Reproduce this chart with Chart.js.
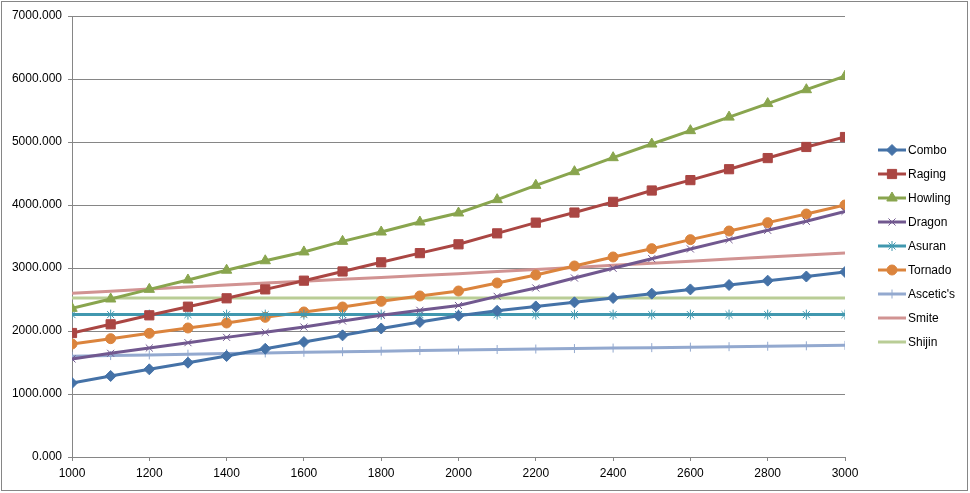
<!DOCTYPE html>
<html lang="en">
<head>
    <meta charset="UTF-8">
    <title>Damage by level</title>
    <script src="https://cdn.jsdelivr.net/npm/chart.js"></script>
    <style>
        body {
            margin: 0;
            padding: 0;
            background-color: #ffffff;
        }

        #chart-container {
            position: relative;
            width: 970px;
            height: 493px;
        }
    </style>
</head>
<body>

    <div id="chart-container">
        <canvas id="damage-chart"></canvas>
    </div>

    <script>
        const levels = [1000, 1100, 1200, 1300, 1400, 1500, 1600, 1700, 1800, 1900, 2000,
                        2100, 2200, 2300, 2400, 2500, 2600, 2700, 2800, 2900, 3000];

        const combo    = [1175, 1286, 1392, 1497, 1603, 1718, 1825, 1931, 2040, 2143, 2243,
                          2320, 2390, 2455, 2524, 2593, 2660, 2730, 2799, 2865, 2937];
        const raging   = [1968, 2106, 2249, 2386, 2519, 2661, 2799, 2945, 3090, 3236, 3376,
                          3550, 3720, 3880, 4050, 4230, 4395, 4568, 4745, 4921, 5079];
        const howling  = [2360, 2508, 2661, 2810, 2965, 3115, 3255, 3423, 3571, 3730, 3873,
                          4085, 4312, 4529, 4751, 4968, 5180, 5395, 5610, 5830, 6045];
        const dragon   = [1556, 1646, 1730, 1815, 1899, 1979, 2063, 2160, 2250, 2328, 2405,
                          2550, 2683, 2841, 2995, 3148, 3302, 3450, 3598, 3741, 3899];
        const asuran   = [2260, 2260, 2260, 2260, 2260, 2260, 2260, 2260, 2260, 2260, 2260,
                          2260, 2260, 2260, 2260, 2260, 2260, 2260, 2260, 2260, 2260];
        const tornado  = [1794, 1878, 1963, 2048, 2127, 2217, 2302, 2381, 2471, 2556, 2635,
                          2762, 2889, 3032, 3175, 3307, 3450, 3587, 3720, 3857, 4000];
        const ascetics = [1598, 1610, 1621, 1632, 1642, 1652, 1662, 1671, 1680, 1689, 1698,
                          1706, 1714, 1721, 1729, 1736, 1744, 1751, 1758, 1765, 1772];
        const smite    = [2598, 2632, 2666, 2698, 2730, 2760, 2790, 2820, 2850, 2880, 2910,
                          2943, 2976, 3009, 3042, 3075, 3108, 3141, 3174, 3207, 3240];
        const shijin   = [2525, 2525, 2525, 2525, 2525, 2525, 2525, 2525, 2525, 2525, 2525,
                          2525, 2525, 2525, 2525, 2525, 2525, 2525, 2525, 2525, 2525];

        const seriesNames = ['Combo', 'Raging', 'Howling', 'Dragon', 'Asuran', 'Tornado', "Ascetic's", 'Smite', 'Shijin'];
        const seriesData = [combo, raging, howling, dragon, asuran, tornado, ascetics, smite, shijin];
        const seriesColors = ['#4572A7', '#AA4643', '#89A54E', '#71588F', '#4198AF', '#DB843D', '#93A9CF', '#D19392', '#B9CD96'];
        const markers = ['rectRot', 'rect', 'triangle', 'crossRot', 'star', 'circle', 'cross', false, false];
        const markerSizes = [5.5, 6.5, 6, 5, 5, 5, 4.5, 0, 0];

        const fontFamily = '"Liberation Sans", Arial, sans-serif';

        const datasets = seriesNames.map((name, i) => ({
            label: name,
            data: levels.map((lv, j) => ({ x: lv, y: seriesData[i][j] })),
            borderColor: seriesColors[i],
            backgroundColor: seriesColors[i],
            borderWidth: 3,
            pointStyle: markers[i],
            pointRadius: markerSizes[i],
            pointHoverRadius: markerSizes[i],
            pointBorderWidth: 1,
            pointBorderColor: seriesColors[i],
            pointBackgroundColor: seriesColors[i],
            tension: 0
        }));

        // excel-like legend: line with marker, text to the right
        const sideLegend = {
            id: 'sideLegend',
            afterDraw(chart) {
                const ctx = chart.ctx;
                const area = chart.chartArea;
                const x0 = area.right + 33;
                const yStart = 150;
                ctx.save();
                ctx.font = '12px ' + fontFamily;
                ctx.textBaseline = 'middle';
                chart.data.datasets.forEach((ds, i) => {
                    const y = yStart + i * 24;
                    ctx.strokeStyle = ds.borderColor;
                    ctx.lineWidth = 3;
                    ctx.beginPath();
                    ctx.moveTo(x0, y);
                    ctx.lineTo(x0 + 28, y);
                    ctx.stroke();
                    if (ds.pointStyle) {
                        ctx.fillStyle = ds.backgroundColor;
                        ctx.strokeStyle = ds.borderColor;
                        ctx.lineWidth = 1;
                        Chart.helpers.drawPoint(ctx, {
                            pointStyle: ds.pointStyle,
                            radius: ds.pointRadius,
                            rotation: 0,
                            borderWidth: 1
                        }, x0 + 14, y);
                    }
                    ctx.fillStyle = '#000000';
                    ctx.fillText(ds.label, x0 + 30, y + 1);
                });
                // outer frame
                ctx.strokeStyle = '#868686';
                ctx.lineWidth = 1;
                ctx.strokeRect(1.5, 1.5, chart.width - 4, chart.height - 4);
                ctx.restore();
            }
        };

        new Chart(document.getElementById('damage-chart'), {
            type: 'line',
            data: { datasets: datasets },
            options: {
                responsive: true,
                maintainAspectRatio: false,
                animation: false,
                layout: {
                    padding: { left: 0, right: 125, top: 16, bottom: 0 }
                },
                plugins: {
                    legend: { display: false },
                    tooltip: { enabled: false }
                },
                scales: {
                    x: {
                        type: 'linear',
                        min: 1000,
                        max: 3000,
                        afterFit: (scale) => { scale.height = 36; },
                        ticks: {
                            stepSize: 200,
                            color: '#000000',
                            padding: 5,
                            font: { family: fontFamily, size: 12 },
                            callback: (v) => v
                        },
                        grid: {
                            drawOnChartArea: false,
                            drawTicks: true,
                            tickLength: 4,
                            color: '#868686'
                        },
                        border: { display: true, color: '#868686', width: 1 }
                    },
                    y: {
                        min: 0,
                        max: 7000,
                        afterFit: (scale) => { scale.width = 72; },
                        ticks: {
                            stepSize: 1000,
                            color: '#000000',
                            padding: 6,
                            font: { family: fontFamily, size: 12 },
                            callback: (v) => v.toFixed(3)
                        },
                        grid: {
                            color: '#868686',
                            lineWidth: 1,
                            tickLength: 4
                        },
                        border: { display: true, color: '#868686', width: 1 }
                    }
                }
            },
            plugins: [sideLegend]
        });
    </script>

</body>
</html>
